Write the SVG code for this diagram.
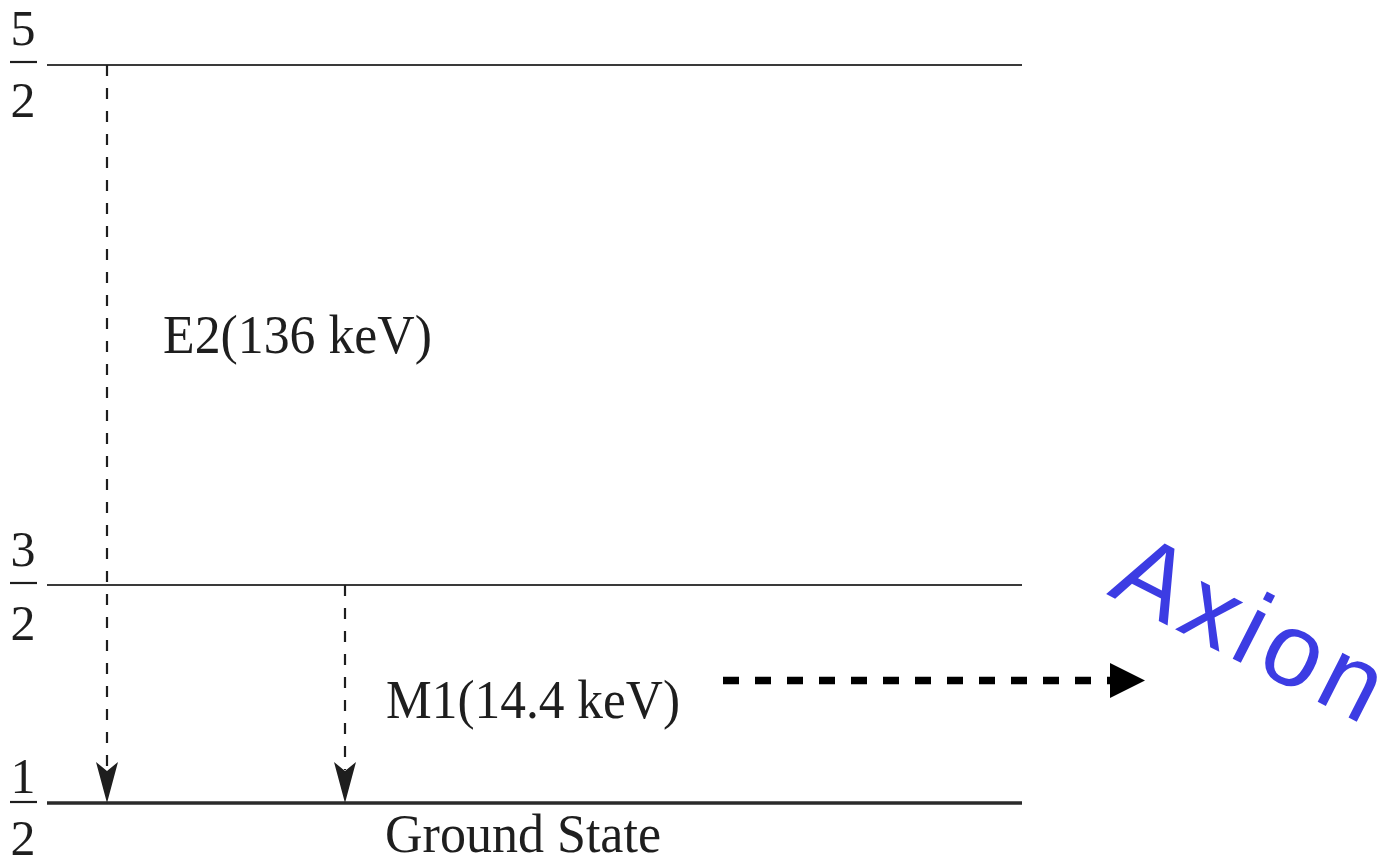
<svg xmlns="http://www.w3.org/2000/svg" width="1394" height="864" viewBox="0 0 1394 864">
  <style>
    .lvl { stroke: #3a3a3a; stroke-width: 2.2; fill: none; }
    .lvl-g { stroke: #2a2a2a; stroke-width: 3.4; fill: none; }
    .frac { font-family: "Liberation Serif", "Times New Roman", serif; font-size: 50px; fill: #1e1e1e; text-anchor: middle; }
    .bar { stroke: #1e1e1e; stroke-width: 2.2; }
    .lbl { font-family: "Liberation Serif", "Times New Roman", serif; font-size: 54px; fill: #1e1e1e; }
    .trans { stroke: #1e1e1e; stroke-width: 2.2; stroke-dasharray: 11 12; fill: none; }
    .emit { stroke: #000; stroke-width: 7.5; stroke-dasharray: 16 16; fill: none; }
    .axion { font-family: "Liberation Sans", Arial, sans-serif; font-size: 104px; fill: #3c3ce3; letter-spacing: 7px; }
  </style>

  <!-- energy levels -->
  <g id="level-5-2">
    <line class="lvl" x1="47" y1="65" x2="1022" y2="65"/>
    <text class="frac" x="23" y="45">5</text>
    <line class="bar" x1="10" y1="62" x2="37" y2="62"/>
    <text class="frac" x="23" y="117">2</text>
  </g>
  <g id="level-3-2">
    <line class="lvl" x1="47" y1="585" x2="1022" y2="585"/>
    <text class="frac" x="23" y="566">3</text>
    <line class="bar" x1="10" y1="583" x2="37" y2="583"/>
    <text class="frac" x="23" y="640">2</text>
  </g>
  <g id="level-1-2">
    <line class="lvl-g" x1="47" y1="803" x2="1022" y2="803"/>
    <text class="frac" x="23" y="793">1</text>
    <line class="bar" x1="10" y1="802" x2="37" y2="802"/>
    <text class="frac" x="23" y="855">2</text>
    <text class="lbl" x="385" y="852" textLength="276" lengthAdjust="spacingAndGlyphs">Ground State</text>
  </g>

  <!-- transition labels -->
  <g id="label-e2">
    <text class="lbl" x="163" y="353" textLength="269" lengthAdjust="spacingAndGlyphs">E2(136 keV)</text>
  </g>
  <g id="label-m1">
    <text class="lbl" x="386" y="718" textLength="294" lengthAdjust="spacingAndGlyphs">M1(14.4 keV)</text>
  </g>
  <g id="axion">
    <text class="axion" transform="translate(1106,594) rotate(27)">Axion</text>
  </g>

  <!-- connectors: dashed gamma transitions and the axion emission arrow -->
  <g id="connectors">
    <line class="trans" x1="107" y1="65" x2="107" y2="770"/>
    <path d="M96,762 L107,771 L118,762 L107,803 Z" fill="#1e1e1e"/>
    <line class="trans" x1="345" y1="585" x2="345" y2="770"/>
    <path d="M334,762 L345,771 L356,762 L345,803 Z" fill="#1e1e1e"/>
    <line class="emit" x1="723" y1="680.5" x2="1112" y2="680.5"/>
    <path d="M1110,663 L1145,680.5 L1110,698 Z" fill="#000"/>
  </g>
</svg>
